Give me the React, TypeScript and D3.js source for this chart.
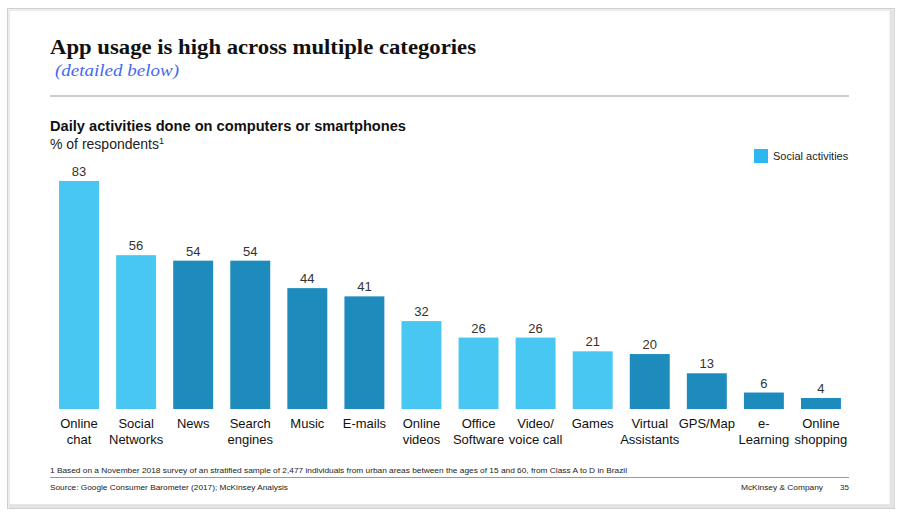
import React from "react";
import * as d3 from "d3";

const categories: string[][] = [
  ["Online", "chat"],
  ["Social", "Networks"],
  ["News"],
  ["Search", "engines"],
  ["Music"],
  ["E-mails"],
  ["Online", "videos"],
  ["Office", "Software"],
  ["Video/", "voice call"],
  ["Games"],
  ["Virtual", "Assistants"],
  ["GPS/Map"],
  ["e-", "Learning"],
  ["Online", "shopping"],
];
const values: number[] = [83, 56, 54, 54, 44, 41, 32, 26, 26, 21, 20, 13, 6, 4];
const isSocial: boolean[] = [true, true, false, false, false, false, true, true, true, true, false, false, false, false];

const W = 904;
const H = 517;
const LIGHT = "#48C7F3";
const DARK = "#1D8BBC";
const SANS = "'Liberation Sans', Arial, sans-serif";
const SERIF = "'Liberation Serif', 'DejaVu Serif', serif";

export default function App() {
  const keys = categories.map((c) => c.join(" "));
  const x = d3.scaleBand<string>().domain(keys).range([50.5, 849.5]).paddingInner(0.3).paddingOuter(0.15);
  const y = d3.scaleLinear().domain([0, 83]).range([409, 181]);

  return (
    <div style={{ position: "fixed", left: 0, top: 0 }}>
      <svg width={W} height={H} viewBox={`0 0 ${W} ${H}`} style={{ display: "block", background: "#fff" }}>
        {/* frame */}
        <rect x={7.5} y={8.5} width={887} height={500} fill="#fff" stroke="#cfcfcf" strokeWidth={1} />
        <line x1={9} y1={10} x2={893} y2={10} stroke="#ececec" strokeWidth={2} />
        <line x1={9} y1={10} x2={9} y2={507} stroke="#ececec" strokeWidth={2} />
        <line x1={892} y1={10} x2={892} y2={507} stroke="#e4e4e4" strokeWidth={5} />
        <line x1={9} y1={506} x2={894} y2={506} stroke="#e4e4e4" strokeWidth={4} />

        {/* titles */}
        <text x={50} y={54} fontFamily={SERIF} fontWeight="bold" fontSize={20} fill="#111" textLength={426} lengthAdjust="spacingAndGlyphs">
          App usage is high across multiple categories
        </text>
        <text x={55} y={76} fontFamily={SERIF} fontStyle="italic" fontSize={17} fill="#4468EE" textLength={124} lengthAdjust="spacingAndGlyphs">
          (detailed below)
        </text>
        <line x1={50} y1={96} x2={849} y2={96} stroke="#bdbdbd" strokeWidth={1.5} />

        <text x={50} y={131} fontFamily={SANS} fontWeight="bold" fontSize={14} fill="#111" textLength={356} lengthAdjust="spacingAndGlyphs">
          Daily activities done on computers or smartphones
        </text>
        <text x={50} y={149} fontFamily={SANS} fontSize={14} fill="#222">
          % of respondents<tspan fontSize={9} dy={-5}>1</tspan>
        </text>

        {/* legend */}
        <rect x={754} y={149} width={14} height={14} fill="#2BB7F0" />
        <text x={773} y={160} fontFamily={SANS} fontSize={11} fill="#222">
          Social activities
        </text>

        {/* bars */}
        {keys.map((k, i) => {
          const bx = x(k)!;
          const bw = x.bandwidth();
          const cx = bx + bw / 2;
          return (
            <g key={k}>
              <rect x={bx} y={y(values[i])} width={bw} height={y(0) - y(values[i])} fill={isSocial[i] ? LIGHT : DARK} />
              <text x={cx} y={y(values[i]) - 5} textAnchor="middle" fontFamily={SANS} fontSize={13} fill="#333">
                {values[i]}
              </text>
              {categories[i].map((line, j) => (
                <text key={j} x={cx} y={428 + j * 16} textAnchor="middle" fontFamily={SANS} fontSize={13} fill="#111">
                  {line}
                </text>
              ))}
            </g>
          );
        })}

        {/* footer */}
        <text x={50} y={473} fontFamily={SANS} fontSize={8} fill="#222" textLength={577} lengthAdjust="spacingAndGlyphs">
          1 Based on a November 2018 survey of an stratified sample of 2,477 individuals from urban areas between the ages of 15 and 60, from Class A to D in Brazil
        </text>
        <line x1={50} y1={477.5} x2={849} y2={477.5} stroke="#9a9a9a" strokeWidth={1} />
        <text x={50} y={490} fontFamily={SANS} fontSize={8} fill="#222" textLength={238} lengthAdjust="spacingAndGlyphs">
          Source: Google Consumer Barometer (2017); McKinsey Analysis
        </text>
        <text x={741} y={490} fontFamily={SANS} fontSize={8} fill="#222" textLength={82} lengthAdjust="spacingAndGlyphs">
          McKinsey &amp; Company
        </text>
        <text x={849} y={490} textAnchor="end" fontFamily={SANS} fontSize={8} fill="#222">
          35
        </text>
      </svg>
    </div>
  );
}
